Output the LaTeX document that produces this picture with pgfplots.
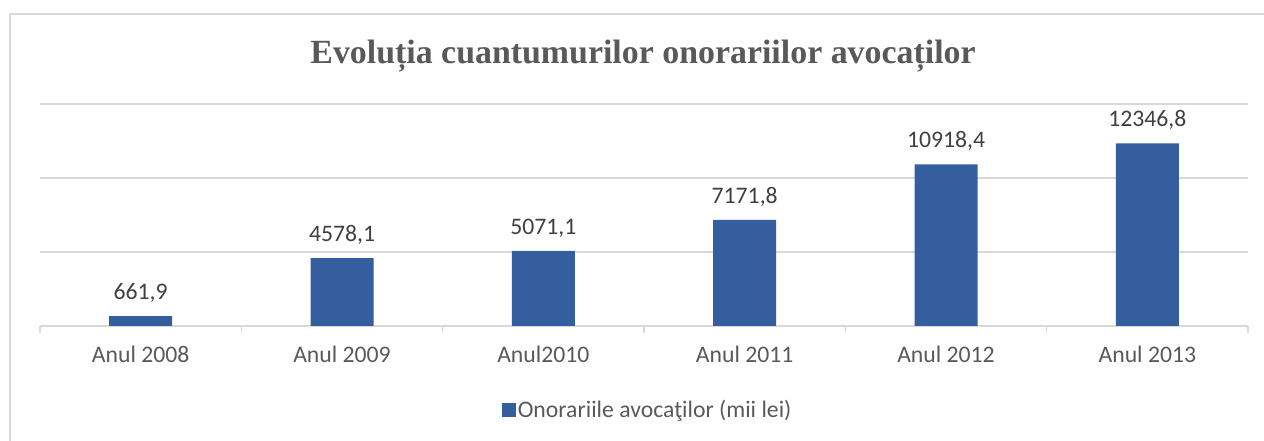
\documentclass[border=0pt]{standalone}
\usepackage{pgfplots}
\pgfplotsset{compat=1.18}
\usepackage{fontspec}
\setmainfont{Carlito}
\newfontfamily\titlefont{Liberation Serif}
\definecolor{barblue}{HTML}{355E9F}
\definecolor{titc}{HTML}{595959}
\definecolor{txt}{HTML}{404040}
\definecolor{gridc}{HTML}{D9D9D9}
\begin{document}
\begin{tikzpicture}[x=1bp,y=1bp]
\useasboundingbox (0,0) rectangle (1264,441);
\draw[gridc, line width=2bp] (10,-5) -- (10,427) -- (1270,427);
\node[font=\titlefont\bfseries\fontsize{34}{40}\selectfont, text=titc] at (643,385) {Evoluția cuantumurilor onorariilor avocaților};
\begin{axis}[
  at={(40bp,115bp)}, anchor=south west,
  width=1208bp, height=222bp, scale only axis,
  xmin=-0.5, xmax=5.5, ymin=0, ymax=15000,
  axis line style={draw=none},
  scaled y ticks=false,
  ytick={0,5000,10000,15000}, yticklabels={},
  ymajorgrids, grid style={gridc, line width=1.3bp},
  xtick={0,...,5},
  xticklabels={Anul 2008, Anul 2009, Anul2010, Anul 2011, Anul 2012, Anul 2013},
  minor xtick={-0.5,0.5,...,5.5},
  tick pos=left, tick align=outside,
  major tick length=0pt, minor tick length=7bp,
  minor tick style={gridc, line width=1.3bp},
  xticklabel style={font=\fontsize{23.8}{28}\selectfont, text=titc, yshift=-17bp},
  ybar, bar width=63bp,
  nodes near coords,
  /pgf/number format/.cd, fixed, fixed zerofill, precision=1, use comma, 1000 sep={}, assume math mode=true,
  /pgfplots/.cd,
  every node near coord/.append style={font=\fontsize{23.8}{28}\selectfont, text=txt, yshift=10bp},
  legend style={at={(0.503,-0.378)}, anchor=center, draw=none, fill=none, font=\fontsize{23.8}{28}\selectfont, text=titc},
  legend image code/.code={\fill[barblue] (-4bp,-7bp) rectangle (10bp,7bp);},
]
\addplot[fill=barblue, draw=none] coordinates {(0,661.9) (1,4578.1) (2,5071.1) (3,7171.8) (4,10918.4) (5,12346.8)};
\addlegendentry{Onorariile avocaţilor (mii lei)}
\end{axis}
\end{tikzpicture}
\end{document}
